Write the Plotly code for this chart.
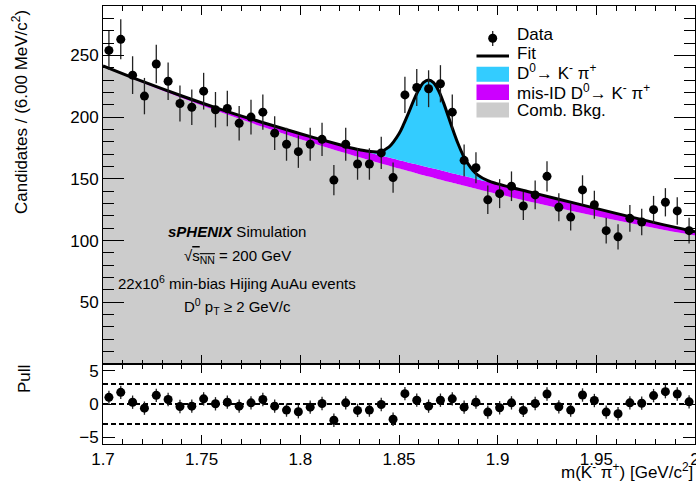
import numpy as np
import plotly.graph_objects as go

# ---------------- data ----------------
bin_centers = [1.703, 1.709, 1.715, 1.721, 1.727, 1.733, 1.739, 1.745, 1.751, 1.757,
               1.763, 1.769, 1.775, 1.781, 1.787, 1.793, 1.799, 1.805, 1.811, 1.817,
               1.823, 1.829, 1.835, 1.841, 1.847, 1.853, 1.859, 1.865, 1.871, 1.877,
               1.883, 1.889, 1.895, 1.901, 1.907, 1.913, 1.919, 1.925, 1.931, 1.937,
               1.943, 1.949, 1.955, 1.961, 1.967, 1.973, 1.979, 1.985, 1.991, 1.997]

counts = [254, 263, 234, 217, 243, 229, 211, 208, 221, 206,
          207, 195, 200, 204, 187, 178, 172, 178, 182, 149,
          178, 162, 162, 171, 151, 218, 224, 223, 227, 204,
          165, 159, 133, 138, 144, 128, 137, 152, 127, 119,
          141, 129, 108, 103, 118, 115, 125, 131, 124, 108]

pulls = [1.0, 1.75, 0.27, -0.62, 1.3, 0.67, -0.37, -0.32, 0.77, 0.03,
         0.27, -0.32, 0.17, 0.67, -0.32, -0.91, -1.16, -0.47, 0.07, -2.44,
         0.17, -0.96, -0.91, -0.07, -2.29, 1.55, 0.57, -0.32, 0.57, 0.77,
         -0.47, 0.27, -1.21, -0.57, 0.17, -0.96, 0.07, 1.5, -0.42, -0.91,
         1.35, 0.52, -1.21, -1.46, 0.17, 0.12, 1.26, 1.85, 1.5, 0.32]

# fit components
fit_mass = [1.70, 1.72, 1.74, 1.76, 1.78, 1.80, 1.82, 1.83, 1.84, 1.845,
            1.85, 1.8525, 1.855, 1.8575, 1.86, 1.8625, 1.865, 1.8675, 1.87, 1.8725,
            1.875, 1.8775, 1.88, 1.8825, 1.885, 1.8875, 1.89, 1.895, 1.90, 1.92,
            1.94, 1.96, 1.98, 2.00]
comb_bkg = [241.0, 227.9, 215.5, 203.7, 192.6, 182.1, 172.2, 167.5, 162.8, 160.6,
            158.3, 157.3, 156.1, 155.1, 154.0, 152.9, 151.8, 150.8, 149.7, 148.7,
            147.6, 146.6, 145.6, 144.6, 143.6, 142.6, 141.6, 139.6, 137.7, 130.2,
            123.1, 116.4, 110.0, 104.0]
misid = [0.5, 1.0, 1.6, 2.4, 3.4, 4.4, 5.4, 5.9, 6.4, 6.6,
         6.8, 6.9, 7.0, 7.1, 7.2, 7.3, 7.4, 7.5, 7.6, 7.6,
         7.7, 7.7, 7.8, 7.8, 7.9, 7.9, 7.9, 8.0, 8.0, 7.6,
         6.8, 5.6, 4.3, 3.2]
signal = [0.0, 0.0, 0.0, 0.0, 0.0, 0.0, 0.0, 0.1, 2.7, 8.7,
          21.4, 30.5, 40.9, 51.6, 61.0, 67.9, 70.9, 69.6, 64.2, 55.6,
          45.2, 34.6, 24.8, 16.7, 10.6, 6.3, 3.5, 0.9, 0.2, 0.0,
          0.0, 0.0, 0.0, 0.0]

x_tickvals = [1.7, 1.75, 1.8, 1.85, 1.9, 1.95, 2.0]
x_ticktext = ["1.7", "1.75", "1.8", "1.85", "1.9", "1.95", "2"]
y_tickvals = [50, 100, 150, 200, 250]
pull_tickvals = [-5, 0, 5]
pull_lines = [-3, 0, 3]

legend_labels = ["Data", "Fit", "D<sup>0</sup>\u2192 K<sup>-</sup> \u03c0<sup>+</sup>",
                 "mis-ID D<sup>0</sup>\u2192 K<sup>-</sup> \u03c0<sup>+</sup>", "Comb. Bkg."]

# ---------------- styling ----------------
FONT = "Liberation Sans, Arial, Helvetica, sans-serif"
C_BKG, C_MIS, C_SIG = "#cccccc", "#cc00ff", "#33ccff"
W, H = 696, 482
ML, MR, MT, MB = 103, 1, 6, 38
PW, PH = W - ML - MR, H - MT - MB
SPLIT = (444 - 364) / PH


def px(x):
    return (x - ML) / PW


def py(y):
    return (H - MB - y) / PH


total = np.array(comb_bkg) + np.array(misid) + np.array(signal)
errs = np.sqrt(np.array(counts, dtype=float))

fig = go.Figure()
for vals, col in [(comb_bkg, C_BKG), (misid, C_MIS), (signal, C_SIG)]:
    fig.add_trace(go.Scatter(x=fit_mass, y=vals, stackgroup="fit", mode="lines",
                             line=dict(width=0, shape="spline", color=col),
                             fillcolor=col, showlegend=False, hoverinfo="skip",
                             xaxis="x", yaxis="y"))
fig.add_trace(go.Scatter(x=fit_mass, y=total, mode="lines",
                         line=dict(color="black", width=3, shape="spline"),
                         showlegend=False, xaxis="x", yaxis="y"))
fig.add_trace(go.Scatter(x=bin_centers, y=counts, mode="markers",
                         marker=dict(color="black", size=9),
                         error_y=dict(type="data", array=errs, width=0, thickness=1.3, color="#222"),
                         showlegend=False, xaxis="x", yaxis="y"))
fig.add_trace(go.Scatter(x=bin_centers, y=pulls, mode="markers",
                         marker=dict(color="black", size=9),
                         error_y=dict(type="constant", value=1, width=0, thickness=1.3, color="#222"),
                         showlegend=False, xaxis="x2", yaxis="y2"))

for v in pull_lines:
    fig.add_shape(type="line", xref="x2 domain", yref="y2", x0=0, x1=1, y0=v, y1=v,
                  line=dict(color="black", width=2, dash="5px,3px"), layer="below")

axis_common = dict(showline=True, linecolor="black", linewidth=1, mirror="allticks",
                   ticks="inside", tickcolor="black", showgrid=False, zeroline=False,
                   automargin=False,
                   tickfont=dict(family=FONT, size=17, color="black"))

fig.update_layout(
    width=W, height=H, margin=dict(l=ML, r=MR, t=MT, b=MB, autoexpand=False),
    paper_bgcolor="white", plot_bgcolor="white", showlegend=False,
    font=dict(family=FONT, color="black"),
    xaxis=dict(domain=[0, 1], anchor="y", range=[1.7, 2.0], tickvals=x_tickvals,
               showticklabels=False, ticklen=9,
               minor=dict(ticks="inside", ticklen=4.5, tickmode="linear", tick0=1.7, dtick=0.01,
                          tickcolor="black"),
               **axis_common),
    yaxis=dict(domain=[SPLIT, 1], anchor="x", range=[0, 290], tickvals=y_tickvals, ticklen=21,
               minor=dict(ticks="inside", ticklen=11, tickmode="linear", tick0=0, dtick=10,
                          tickcolor="black"),
               **axis_common),
    xaxis2=dict(domain=[0, 1], anchor="y2", range=[1.7, 2.0], tickvals=x_tickvals,
                ticktext=x_ticktext, ticklen=9, ticklabeloverflow="allow",
                minor=dict(ticks="inside", ticklen=5, tickmode="linear", tick0=1.7, dtick=0.01,
                           tickcolor="black"),
                **axis_common),
    yaxis2=dict(domain=[0, SPLIT], anchor="x2", range=[-6, 6], tickvals=pull_tickvals, ticklen=12,
                **axis_common),
)

# ---------------- legend (drawn by hand) ----------------
lx0, lx1 = px(476.5), px(509)
fig.add_shape(type="line", xref="paper", yref="paper", x0=px(492.7), x1=px(492.7),
              y0=py(31), y1=py(46), line=dict(color="#222", width=1.3))
fig.add_shape(type="circle", xref="paper", yref="paper", x0=px(488.2), x1=px(497.2),
              y0=py(42.8), y1=py(33.8), fillcolor="black", line=dict(width=0))
fig.add_shape(type="line", xref="paper", yref="paper", x0=lx0, x1=lx1, y0=py(56), y1=py(56),
              line=dict(color="black", width=3))
for (t, b), col in [((66.7, 81.7), C_SIG), ((84.5, 100), C_MIS), ((102.5, 117.5), C_BKG)]:
    fig.add_shape(type="rect", xref="paper", yref="paper", x0=lx0, x1=lx1, y0=py(b), y1=py(t),
                  fillcolor=col, line=dict(width=0))
for lab, yc in zip(legend_labels, [35, 53.5, 72.5, 91.5, 110]):
    fig.add_annotation(text=lab, xref="paper", yref="paper", x=px(515), y=py(yc),
                       xanchor="left", yanchor="middle", showarrow=False,
                       font=dict(family=FONT, size=17, color="black"))

# ---------------- text ----------------
txt = [("<b><i>sPHENIX</i></b> Simulation", 231),
       ("\u221a<span style='text-decoration:overline'>s<sub>NN</sub></span> = 200 GeV", 256),
       ("22x10<sup>6</sup> min-bias Hijing AuAu events", 282),
       ("D<sup>0</sup> p<sub>T</sub> \u2265 2 GeV/c", 306)]
for t, yc in txt:
    fig.add_annotation(text=t, xref="paper", yref="paper", x=px(237), y=py(yc),
                       xanchor="center", yanchor="middle", showarrow=False,
                       font=dict(family=FONT, size=15, color="black"))

fig.add_annotation(text="Candidates / (6.00 MeV/c<sup>2</sup>)", textangle=-90,
                   xref="paper", yref="paper", x=px(20), y=py(8), xanchor="center", yanchor="top",
                   showarrow=False, font=dict(family=FONT, size=17, color="black"))
fig.add_annotation(text="Pull", textangle=-90, xref="paper", yref="paper", x=px(24), y=py(363),
                   xanchor="center", yanchor="top", showarrow=False,
                   font=dict(family=FONT, size=17, color="black"))
fig.add_annotation(text="m(K<sup>-</sup> \u03c0<sup>+</sup>) [GeV/c<sup>2</sup>]",
                   xref="paper", yref="paper", x=px(695), y=py(471), xanchor="right",
                   yanchor="middle", showarrow=False, font=dict(family=FONT, size=17, color="black"))

fig.write_html("out.html", config={"displayModeBar": False})
